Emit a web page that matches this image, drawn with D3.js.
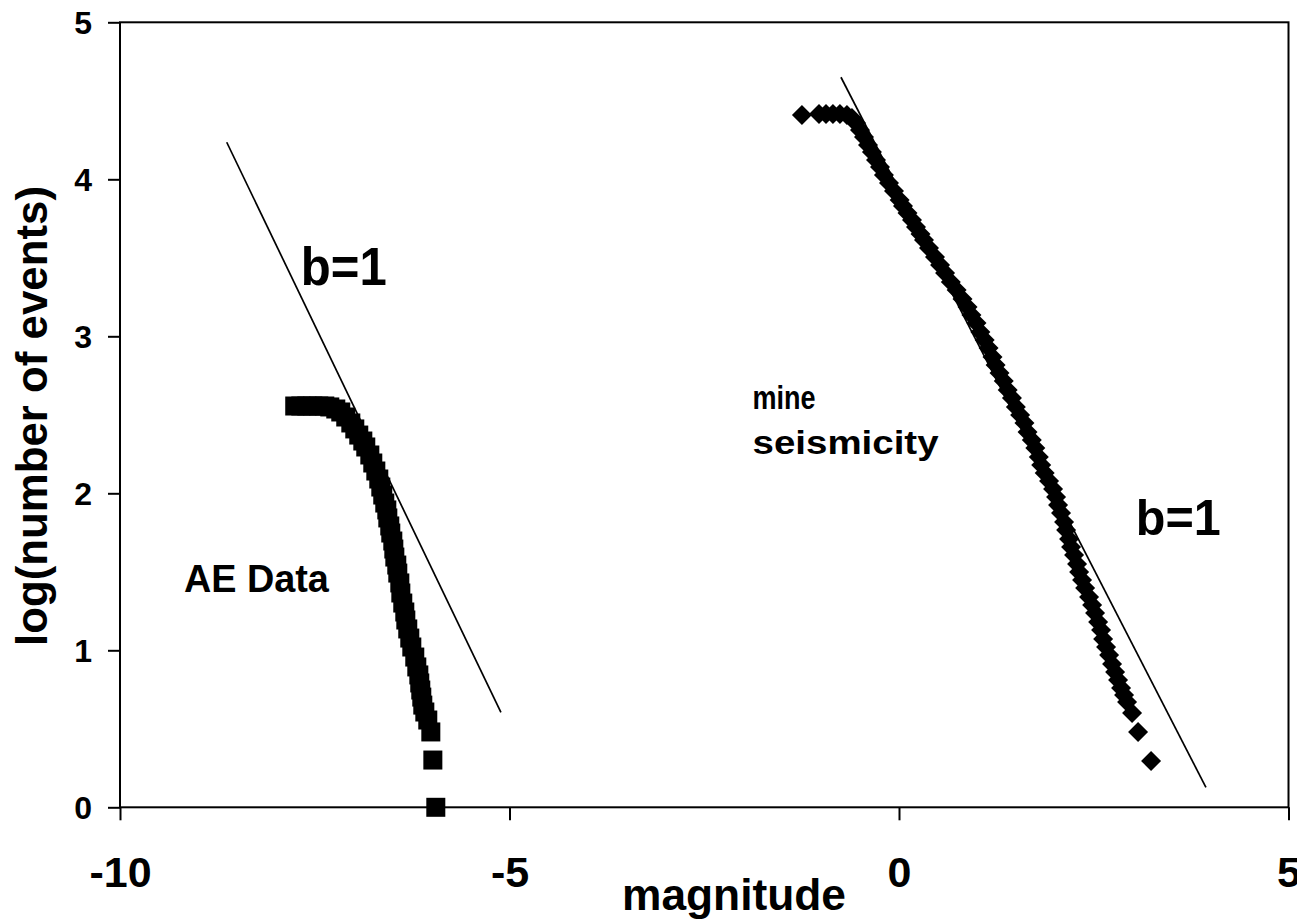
<!DOCTYPE html>
<html>
<head>
<meta charset="utf-8">
<script src="https://cdn.jsdelivr.net/npm/d3@7/dist/d3.min.js"></script>
<style>
  html, body { margin: 0; padding: 0; background: #fff; }
  svg { display: block; }
  text { font-family: "Liberation Sans", Arial, sans-serif; font-weight: bold; fill: #000; }
</style>
</head>
<body>
<svg id="chart" width="1297" height="924"></svg>
<script>
// ---- Data (magnitude, log10 cumulative number of events) ----
const aeMag = [-7.757,-7.679,-7.602,-7.525,-7.448,-7.371,-7.307,-7.230,-7.166,-7.102,-7.037,-6.986,-6.935,-6.883,-6.845,-6.793,-6.755,-6.716,-6.678,-6.652,-6.627,-6.601,-6.575,-6.562,-6.537,-6.524,-6.498,-6.485,-6.472,-6.447,-6.434,-6.408,-6.395,-6.370,-6.344,-6.331,-6.306,-6.280,-6.254,-6.216,-6.190,-6.164,-6.152,-6.139,-6.126,-6.113,-6.087,-6.049,-6.010,-5.984,-5.946];
const aeLogN = [2.556,2.556,2.556,2.556,2.556,2.556,2.550,2.537,2.518,2.486,2.448,2.410,2.371,2.333,2.295,2.244,2.193,2.142,2.091,2.040,1.989,1.938,1.894,1.843,1.792,1.747,1.696,1.645,1.594,1.543,1.492,1.429,1.365,1.301,1.244,1.193,1.136,1.078,1.021,0.957,0.894,0.843,0.792,0.747,0.702,0.651,0.607,0.556,0.480,0.301,0.000];

const mineMag = [-1.246,-1.027,-0.937,-0.848,-0.758,-0.668,-0.604,-0.552,-0.501,-0.449,-0.398,-0.347,-0.295,-0.244,-0.193,-0.128,-0.064,0.008,0.051,0.109,0.167,0.218,0.276,0.321,0.385,0.462,0.527,0.591,0.665,0.740,0.815,0.880,0.930,0.995,1.045,1.100,1.150,1.200,1.240,1.290,1.345,1.395,1.450,1.500,1.555,1.610,1.650,1.705,1.750,1.795,1.825,1.870,1.926,1.978,2.016,2.042,2.080,2.119,2.145,2.183,2.209,2.247,2.286,2.312,2.350,2.389,2.440,2.479,2.517,2.556,2.594,2.620,2.658,2.697,2.735,2.774,2.812,2.851,2.889,2.928,2.992,3.069,3.236];
const mineLogN = [4.409,4.416,4.416,4.416,4.416,4.409,4.390,4.358,4.314,4.269,4.218,4.174,4.123,4.078,4.027,3.976,3.925,3.868,3.830,3.785,3.741,3.696,3.652,3.613,3.562,3.505,3.454,3.403,3.346,3.295,3.238,3.187,3.136,3.085,3.027,2.976,2.925,2.868,2.817,2.766,2.715,2.658,2.607,2.550,2.499,2.448,2.390,2.339,2.288,2.231,2.180,2.129,2.078,2.027,1.976,1.925,1.875,1.817,1.766,1.709,1.658,1.607,1.550,1.499,1.448,1.397,1.339,1.289,1.238,1.180,1.129,1.072,1.021,0.970,0.913,0.862,0.811,0.760,0.715,0.671,0.601,0.480,0.295];

// b=1 reference lines: [mag, logN] endpoints
const aeLineMag = [-8.63, -5.11];
const aeLineLogN = [4.236, 0.605];
const mineLineMag = [-0.745, 3.94];
const mineLineLogN = [4.65, 0.127];

const xTicks = [-10, -5, 0, 5];
const yTicks = [0, 1, 2, 3, 4, 5];
const xTitle = "magnitude";
const yTitle = "log(number of events)";

// ---- Layout ----
const svg = d3.select("#chart");
const x = d3.scaleLinear().domain([-10, 5]).range([120, 1288.5]);
const y = d3.scaleLinear().domain([0, 5]).range([807.3, 22.3]);
const fmt = d => String(d);

// frame
svg.append("rect")
  .attr("x", x(-10)).attr("y", y(5))
  .attr("width", x(5) - x(-10)).attr("height", y(0) - y(5))
  .attr("fill", "none").attr("stroke", "#000").attr("stroke-width", 2);

// y axis
const yAxis = svg.append("g").attr("transform", `translate(${x(-10)},0)`)
  .call(d3.axisLeft(y).tickValues(yTicks).tickSize(12).tickPadding(16).tickFormat(fmt));
yAxis.select(".domain").remove();
yAxis.selectAll("line").attr("stroke", "#000").attr("stroke-width", 2);
yAxis.selectAll("text").style("font-size", "32px").attr("dy", "0.36em");

// x axis
const xAxis = svg.append("g").attr("transform", `translate(0,${y(0)})`)
  .call(d3.axisBottom(x).tickValues(xTicks).tickSize(13).tickPadding(36).tickFormat(fmt));
xAxis.select(".domain").remove();
xAxis.selectAll("line").attr("stroke", "#000").attr("stroke-width", 2);
xAxis.selectAll("text").style("font-size", "43px");

// b=1 lines
const line = d3.line().x(d => x(d[0])).y(d => y(d[1]));
svg.append("path")
  .attr("d", line(aeLineMag.map((m, i) => [m, aeLineLogN[i]])))
  .attr("fill", "none").attr("stroke", "#000").attr("stroke-width", 1.7);
svg.append("path")
  .attr("d", line(mineLineMag.map((m, i) => [m, mineLineLogN[i]])))
  .attr("fill", "none").attr("stroke", "#000").attr("stroke-width", 1.7);

// AE data: black squares
const sq = 19;
svg.append("g").selectAll("rect")
  .data(aeMag.map((m, i) => [m, aeLogN[i]]))
  .join("rect")
  .attr("x", d => x(d[0]) - sq / 2).attr("y", d => y(d[1]) - sq / 2)
  .attr("width", sq).attr("height", sq).attr("fill", "#000");

// mine seismicity: black diamonds
const r = 10;
svg.append("g").selectAll("path")
  .data(mineMag.map((m, i) => [m, mineLogN[i]]))
  .join("path")
  .attr("d", `M0,${-r}L${r},0L0,${r}L${-r},0Z`)
  .attr("transform", d => `translate(${x(d[0])},${y(d[1])})`)
  .attr("fill", "#000");

// annotations
function label(txt, px, py, size, len) {
  svg.append("text").attr("x", px).attr("y", py)
    .style("font-size", size + "px")
    .attr("textLength", len).attr("lengthAdjust", "spacingAndGlyphs")
    .text(txt);
}
label("b=1", x(-7.68), y(3.327), 54, 86);
label("b=1", x(3.04), y(1.735), 50, 85);
label("AE Data", x(-9.18), y(1.37), 38, 145);
label("mine", x(-1.88), y(2.54), 34, 63);
label("seismicity", x(-1.88), y(2.25), 34, 186);

// axis titles
svg.append("text").attr("x", 734).attr("y", 910)
  .attr("text-anchor", "middle").style("font-size", "44px")
  .attr("textLength", 224).attr("lengthAdjust", "spacingAndGlyphs")
  .text(xTitle);
svg.append("text").attr("transform", "translate(47,416) rotate(-90)")
  .attr("text-anchor", "middle").style("font-size", "44px")
  .attr("textLength", 460).attr("lengthAdjust", "spacingAndGlyphs")
  .text(yTitle);
</script>
</body>
</html>
